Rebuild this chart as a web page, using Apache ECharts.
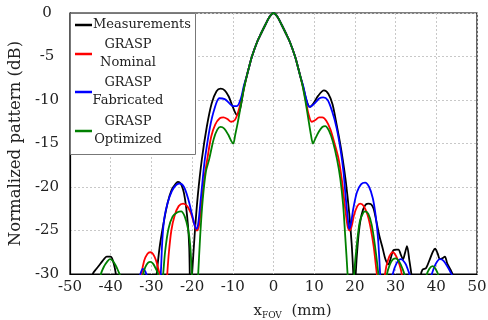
<!DOCTYPE html>
<html><head><meta charset="utf-8">
<script src="https://cdn.jsdelivr.net/npm/echarts@6/dist/echarts.min.js"></script>
<style>html,body{margin:0;padding:0;background:#fff}#c{width:488px;height:320px}</style>
</head><body><div id="c"></div>
<script>
const seriesNames = ['Measurements', 'GRASP Nominal', 'GRASP Fabricated', 'GRASP Optimized'];
const xTicks = [-50, -40, -30, -20, -10, 0, 10, 20, 30, 40, 50];
const yTicks = [-30, -25, -20, -15, -10, -5, 0];
// shared main lobe
const xMain = [-6, -5.3, -4, -3, -2, -1, 0, 1, 2, 3, 4, 5.3, 6];
const yMain = [-6.2, -5, -3.3, -2.3, -1.35, -0.45, 0, -0.45, -1.35, -2.3, -3.3, -5, -6.2];

const xMeasL = [-45, -44.4, -43.5, -42.5, -41.5, -41, -40, -39.5, -39, -38.6, -38, -33, -29.5, -28.7, -28, -27.1, -26, -25, -24, -23.5, -23, -22.5, -22, -21.5, -21, -20.7, -20.4, -20.0, -19.3, -18.6, -17.6, -16.4, -15.2, -14, -13, -12, -11, -10, -9, -8.2, -7.4, -6.6];
const yMeasL = [-32, -30, -29.4, -28.8, -28.2, -28.0, -28.0, -28.4, -29.3, -30.5, -34, -40, -34, -30, -27, -24.4, -21.8, -20.3, -19.6, -19.4, -19.5, -19.9, -20.7, -22.2, -24.5, -27, -33, -30, -25, -21, -16.8, -13.1, -10.4, -9.0, -8.7, -8.9, -9.6, -10.8, -11.7, -11, -9, -7.3];
const xMeasR = [6.6, 7.4, 8.2, 9, 9.8, 11, 12.4, 13.5, 14.5, 15.5, 16.3, 17, 17.8, 18.6, 19.2, 19.6, 19.9, 20.2, 20.7, 21.3, 22, 22.7, 23.3, 24, 24.6, 25.3, 26, 26.8, 27.5, 28.2, 28.8, 29.4, 30.1, 30.7, 31.3, 31.8, 32.3, 32.8, 33.4, 34, 34.5, 35.8, 36.2, 36.6, 37.5, 38.5, 39.2, 39.7, 40.3, 40.9, 41.5, 42.1, 42.7, 43.5, 44.2, 45];
const yMeasR = [-7.3, -8.7, -10.2, -10.8, -10.4, -9.5, -8.9, -9.3, -10.5, -12.8, -14.8, -16.8, -19.5, -23, -26.5, -30, -34, -30, -26.5, -24, -22.6, -22, -21.9, -22, -22.5, -24, -25.6, -27, -28.3, -28.9, -28.2, -27.3, -27.2, -27.2, -27.8, -28.3, -27.6, -26.8, -28.5, -30.5, -34, -34, -30.2, -29.5, -29.3, -28.2, -27.4, -27.1, -27.6, -28.3, -28.2, -28.0, -28.8, -29.5, -30.3, -33];

const xNomL = [-33, -32.4, -31.8, -31, -30.3, -29.6, -28.9, -28.2, -27.7, -27.2, -26.5, -26.1, -25.7, -25.1, -24.3, -23.3, -22.2, -21.2, -20.3, -19.5, -18.8, -18.3, -17.7, -17, -16.2, -15.3, -14.3, -13.2, -12.3, -11.3, -10.4, -9.5, -8.7, -7.9, -7.2, -6.6];
const yNomL = [-33, -30, -28.5, -27.7, -27.5, -27.7, -28.4, -29.6, -30.5, -34, -33, -30, -27.5, -25, -23.3, -22.2, -21.9, -22.2, -23, -24.2, -25, -24.4, -22, -19, -16.6, -14.2, -12.8, -12.1, -12.0, -12.2, -12.5, -12.3, -11.4, -10, -8.4, -7.3];
const xNomR = [6.6, 7.2, 7.9, 8.6, 9.4, 10.3, 11.2, 12.0, 13, 14, 15, 16, 16.8, 17.5, 18.2, 18.7, 19.2, 19.8, 20.6, 21.3, 22.2, 23.1, 23.9, 24.6, 25.2, 25.5, 26, 27, 27.4, 28.2, 29.3, 30.2, 31, 31.5, 32];
const yNomR = [-7.3, -8.4, -10, -11.6, -12.5, -12.3, -12.0, -12.0, -12.4, -13.4, -15.0, -16.8, -19.2, -22, -24.5, -25.0, -24.5, -23.2, -22.2, -21.9, -22.2, -23.2, -24.8, -26.8, -29.2, -30.5, -34, -33, -30, -28.3, -27.5, -28.0, -29.0, -30, -33];

const xFabL = [-33.3, -32.7, -32.1, -31.5, -31.0, -30.5, -29, -28, -27.7, -27.3, -26.8, -26, -25, -24, -23, -22, -21, -20, -19.3, -18.9, -18.5, -18, -17.2, -16.8, -15.6, -14.5, -13.3, -12, -11, -10, -9, -8, -7.3, -6.6];
const yFabL = [-31.5, -30, -29.4, -29.7, -30.5, -33, -35, -31.5, -30, -26, -23.5, -21.8, -20.5, -19.8, -19.6, -20.0, -21.3, -23.2, -24.5, -24.8, -24.2, -22, -18.2, -16.6, -13.1, -11.0, -9.8, -9.9, -10.3, -10.7, -10.7, -9.8, -8.4, -7.3];
const xFabR = [6.6, 7.3, 8, 8.8, 9.6, 10.5, 11.3, 12.2, 13.3, 14.4, 15.5, 16.5, 17.2, 17.8, 18.3, 18.6, 19.0, 19.6, 20.5, 21.5, 22.5, 23.5, 24.4, 25.1, 25.7, 26.2, 26.6, 28.5, 29, 29.3, 30.2, 31.3, 32.4, 33.1, 33.5, 34, 38, 38.6, 38.9, 39.6, 40.3, 40.9, 41.8, 42.8, 43.5, 43.9, 44.5];
const yFabR = [-7.3, -8.4, -9.8, -10.8, -10.6, -10.2, -9.8, -9.7, -10.0, -11.3, -13.2, -15.8, -18.3, -21.5, -23.8, -24.8, -24.3, -22.5, -20.6, -19.7, -19.5, -20.0, -21.3, -23.3, -26, -30, -34, -35, -31, -30, -28.8, -28.3, -28.8, -29.6, -30.2, -33, -34, -30.5, -30, -29.1, -28.5, -28.3, -28.5, -29.2, -29.8, -30.2, -33];

const xOptL = [-43, -42.4, -41.6, -40.9, -40.2, -39.5, -38.8, -38.2, -37.7, -37.2, -32.5, -32, -31.5, -30.8, -30.3, -29.6, -28.9, -28.3, -27.8, -27.4, -27.1, -26.6, -25.8, -24.8, -23.6, -22.7, -21.8, -21, -20.5, -20.1, -19.8, -19.2, -18.7, -18.5, -18.0, -17.4, -16.6, -15.8, -14.7, -13.8, -13, -12.1, -11.1, -10.4, -9.9, -9.4, -8.7, -7.8, -7.2, -6.6];
const yOptL = [-32, -30, -29.1, -28.6, -28.3, -28.5, -29, -29.6, -30.2, -33, -32, -30, -29.2, -28.7, -28.6, -28.8, -29.4, -30.1, -33, -32, -30, -27.3, -24.8, -23.4, -22.9, -22.8, -23.4, -24.8, -26.5, -29.5, -32, -36, -32, -30, -25.5, -21.5, -18.2, -16.8, -14.5, -13.4, -13.1, -13.3, -14.0, -14.7, -15.0, -14.0, -12.4, -10.0, -8.5, -7.3];
const xOptR = [6.6, 7.2, 7.8, 8.5, 9.2, 9.7, 10.3, 11.2, 12.0, 12.7, 13.6, 14.6, 15.6, 16.4, 17.1, 17.6, 18.2, 18.6, 19.2, 19.6, 19.8, 20.5, 21.2, 22.0, 22.5, 23.3, 24.1, 24.8, 25.4, 25.8, 26.2, 27.4, 27.8, 28.6, 29.4, 30.1, 30.9, 31.7, 32.3, 32.8, 37.2, 37.6, 38.3, 39.1, 39.8, 40.5, 41];
const yOptR = [-7.3, -8.5, -10, -12, -14, -15.0, -14.4, -13.6, -13.1, -13.0, -13.5, -14.8, -16.8, -19, -22, -25.5, -30, -34, -36, -32, -30, -26.5, -24, -23, -22.8, -23.1, -24.3, -26.3, -28.5, -30.2, -33, -33, -30.2, -28.9, -28.3, -28.2, -28.6, -29.4, -30.3, -33, -33, -30.2, -29.4, -29.1, -29.4, -30.2, -33];

function build(xl, yl, xr, yr) {
  const xs = xl.concat(xMain, xr), ys = yl.concat(yMain, yr);
  return xs.map((x, i) => [x, ys[i]]);
}
const FONT = 'DejaVu Serif';
const TXT = '#222';
const colors = ['#000000', '#ff0000', '#0000ff', '#008000'];
const datasets = [
  build(xMeasL, yMeasL, xMeasR, yMeasR),
  build(xNomL, yNomL, xNomR, yNomR),
  build(xFabL, yFabL, xFabR, yFabR),
  build(xOptL, yOptL, xOptR, yOptR)
];

// legend drawn as graphic (multi-line centred entries)
const legRowY = [25, 54, 92, 131];
const legendEls = [{
  type: 'rect', shape: {x: 70.5, y: 13.5, width: 125, height: 141},
  style: {fill: '#fff', stroke: '#777', lineWidth: 1}, z: 100
}];
seriesNames.forEach((n, i) => {
  legendEls.push({type: 'line', shape: {x1: 75, y1: legRowY[i], x2: 92, y2: legRowY[i]},
    style: {stroke: colors[i], lineWidth: 2.5}, z: 101});
  if (i === 0) {
    legendEls.push({type: 'text', x: 93, y: legRowY[i], z: 101,
      style: {text: n, font: '13px "DejaVu Serif"', fill: TXT, align: 'left', verticalAlign: 'middle'}});
  } else {
    const p = n.split(' ');
    legendEls.push({type: 'text', x: 128, y: legRowY[i] - 9, z: 101,
      style: {text: p[0], font: '13px "DejaVu Serif"', fill: TXT, align: 'center', verticalAlign: 'middle'}});
    legendEls.push({type: 'text', x: 128, y: legRowY[i] + 9, z: 101,
      style: {text: p[1], font: '13px "DejaVu Serif"', fill: TXT, align: 'center', verticalAlign: 'middle'}});
  }
});

const chart = echarts.init(document.getElementById('c'), null, {renderer: 'canvas'});
chart.setOption({
  animation: false,
  backgroundColor: '#fff',
  grid: {left: 70, right: 11, top: 13, bottom: 46, show: true, borderColor: '#000', borderWidth: 1.2,
    containLabel: false, outerBoundsMode: 'none'},
  graphic: legendEls,
  xAxis: {
    type: 'value', min: xTicks[0], max: xTicks[xTicks.length - 1], interval: 10,
    name: '{x|x}{s|FOV}{x|  (mm)}', nameLocation: 'middle', nameGap: 28,
    nameTextStyle: {
      padding: [0, 0, 0, 38],
      rich: {
        x: {fontFamily: FONT, fontSize: 15, lineHeight: 18, color: TXT},
        s: {fontFamily: FONT, fontSize: 9, lineHeight: 9, verticalAlign: 'bottom', color: TXT}
      }
    },
    axisLine: {onZero: false, lineStyle: {color: '#000', width: 1.2}},
    axisTick: {show: false},
    axisLabel: {color: TXT, fontFamily: FONT, fontSize: 15, margin: 6},
    splitLine: {lineStyle: {color: '#c8c8c8', type: [2, 2], width: 1}}
  },
  yAxis: {
    type: 'value', min: yTicks[0], max: yTicks[yTicks.length - 1], interval: 5,
    name: 'Normalized pattern (dB)', nameLocation: 'middle', nameGap: 34,
    nameTextStyle: {fontFamily: FONT, fontSize: 16.5, color: TXT},
    axisLine: {show: true, onZero: false, lineStyle: {color: '#000', width: 1.2}},
    axisTick: {show: false},
    axisLabel: {color: TXT, fontFamily: FONT, fontSize: 15, margin: 23, align: 'center'},
    splitLine: {lineStyle: {color: '#c8c8c8', type: [2, 2], width: 1}}
  },
  series: seriesNames.map((n, i) => ({
    name: n, type: 'line', data: datasets[i], showSymbol: false, smooth: 0.3, clip: true,
    lineStyle: {color: colors[i], width: 1.8}, itemStyle: {color: colors[i]}, z: 2 + i
  }))
});
</script></body></html>
